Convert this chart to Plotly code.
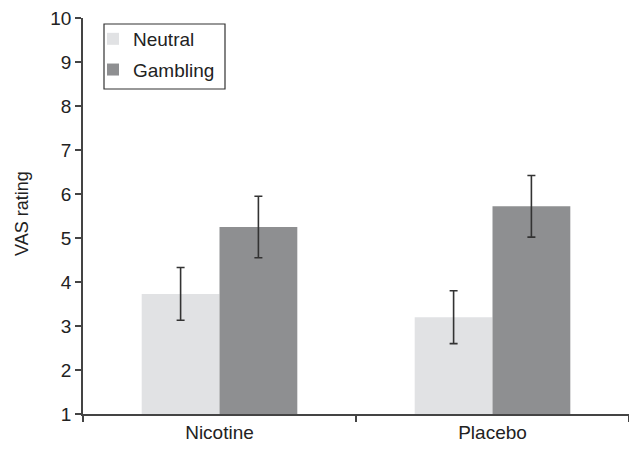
import plotly.graph_objects as go

categories = ["Nicotine", "Placebo"]
neutral = [3.73, 3.2]
gambling = [5.25, 5.72]
neutral_err = [0.6, 0.6]
gambling_err = [0.7, 0.7]

err_style = dict(type="data", thickness=1.6, width=4, color="#333333")

fig = go.Figure()
fig.add_trace(go.Bar(name="Neutral", x=categories, y=[v - 1 for v in neutral], base=1,
                     legendgroup="n",
                     marker=dict(color="#e1e2e4", line=dict(width=0)),
                     error_y=dict(array=neutral_err, **err_style)))
fig.add_trace(go.Bar(name="Gambling", x=categories, y=[v - 1 for v in gambling], base=1,
                     legendgroup="g",
                     marker=dict(color="#8e8f91", line=dict(width=0)),
                     error_y=dict(array=gambling_err, **err_style)))

font = "Liberation Sans, Arial, sans-serif"
fig.update_layout(
    width=629, height=449,
    margin=dict(l=83, r=0, t=18, b=35),
    paper_bgcolor="white", plot_bgcolor="white",
    barmode="group", bargap=0.43, bargroupgap=0,
    font=dict(family=font, size=19, color="#222222"),
    showlegend=True,
    legend=dict(x=10 / 546, y=0.995, xanchor="left", yanchor="top",
                borderwidth=0, bgcolor="rgba(0,0,0,0)",
                font=dict(size=19, color="#222222"), traceorder="grouped",
                itemwidth=30, tracegroupgap=3),
    shapes=[dict(type="rect", xref="paper", yref="paper", x0=21 / 546, x1=142 / 546,
                 y0=325 / 396, y1=390 / 396, line=dict(color="#333333", width=1.2),
                 layer="above")],
    xaxis=dict(range=[-0.5, 1.5], showline=True, linecolor="#444444", linewidth=1.5,
               ticks="outside", tickson="boundaries", ticklen=6, tickcolor="#444444",
               tickwidth=1.5, showgrid=False, tickfont=dict(size=19), automargin=False),
    yaxis=dict(range=[1, 10], tickvals=list(range(1, 11)), showline=True,
               linecolor="#444444", linewidth=1.5, ticks="outside", ticklen=6,
               tickcolor="#444444", tickwidth=1.5, showgrid=False, zeroline=False,
               tickfont=dict(size=19), automargin=False),
    annotations=[dict(text="VAS rating", x=-61 / 546, xref="paper", y=0.505, yref="paper",
                      xanchor="center", yanchor="middle",
                      showarrow=False, textangle=-90, font=dict(size=18))],
)
fig.write_html("out.html", post_script="document.body.style.margin='0px';",
               config={"displayModeBar": False})
